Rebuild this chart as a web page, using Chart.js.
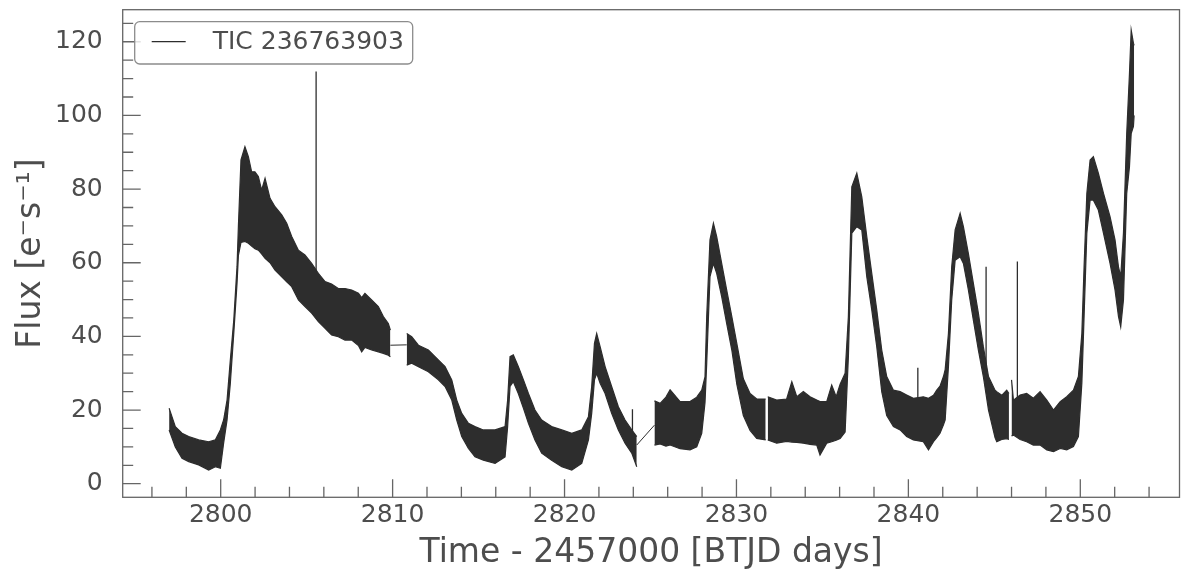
<!DOCTYPE html>
<html>
<head>
<meta charset="utf-8">
<script src="https://cdn.jsdelivr.net/npm/chart.js@4.4.1/dist/chart.umd.min.js"></script>
<style>
html,body{margin:0;padding:0;background:#ffffff;}
#contenedor{width:1181px;height:574px;}
</style>
</head>
<body>
<div id="contenedor"><canvas id="curvaLuz" width="1181" height="574"></canvas></div>
<script>

// Curva de luz (envolvente superior / inferior)

const nombreObjeto = "TIC 236763903";

// Segmento 1

const tiempo1 = [2797.00, 2797.36, 2797.75, 2798.14, 2798.72, 2799.30, 2799.69, 2799.98, 2800.17, 2800.37, 2800.56, 2800.76, 2800.95, 2801.03, 2801.18, 2801.41, 2801.61, 2801.80, 2801.99, 2802.19, 2802.38, 2802.58, 2802.87, 2803.16, 2803.55, 2803.84, 2804.13, 2804.52, 2804.90, 2805.29, 2805.68, 2806.07, 2806.45, 2806.84, 2807.23, 2807.62, 2808.01, 2808.20, 2808.39, 2808.78, 2809.17, 2809.46, 2809.75, 2809.87];
const fluxAlto1 = [20.5, 15.5, 13.7, 12.8, 11.9, 11.4, 11.9, 14.6, 17.3, 22.7, 33.6, 44.4, 59.0, 70.0, 87.9, 91.5, 88.8, 84.7, 84.7, 83.4, 79.7, 82.9, 77.5, 75.2, 73.0, 70.7, 67.1, 63.4, 62.1, 59.8, 57.1, 54.9, 54.2, 53.0, 53.0, 52.6, 51.7, 50.5, 51.7, 49.9, 48.1, 45.4, 43.5, 41.7];
const fluxBajo1 = [14.6, 10.0, 6.9, 6.0, 5.1, 3.7, 4.6, 4.2, 11.0, 17.3, 27.2, 40.8, 54.4, 62.0, 65.5, 65.8, 65.3, 64.5, 63.8, 63.4, 62.4, 61.2, 60.0, 58.0, 56.2, 54.8, 53.5, 49.9, 48.1, 46.3, 44.0, 42.2, 40.4, 39.9, 39.0, 39.0, 37.5, 35.8, 37.0, 36.3, 35.8, 35.4, 34.9, 34.5];

// Segmento 2

const tiempo2 = [2810.82, 2811.11, 2811.50, 2812.08, 2812.66, 2813.05, 2813.44, 2813.73, 2814.02, 2814.41, 2814.79, 2815.28, 2815.96, 2816.54, 2816.69, 2816.83, 2817.02, 2817.31, 2817.61, 2817.90, 2818.28, 2818.67, 2819.25, 2819.84, 2820.42, 2821.00, 2821.39, 2821.58, 2821.74, 2821.87, 2822.07, 2822.36, 2822.74, 2823.13, 2823.52, 2823.91, 2824.20];
const fluxAlto2 = [40.8, 39.9, 37.6, 36.3, 33.6, 31.8, 28.2, 22.7, 19.1, 16.4, 15.5, 14.6, 14.6, 15.5, 22.7, 34.5, 35.0, 31.8, 28.2, 24.5, 20.0, 17.3, 15.5, 14.6, 13.7, 14.6, 18.2, 26.4, 38.1, 40.8, 37.2, 31.8, 26.4, 20.9, 17.3, 14.6, 12.8];
const fluxBajo2 = [32.2, 32.7, 31.8, 30.4, 28.2, 26.4, 22.7, 17.3, 12.8, 9.6, 7.3, 6.4, 5.5, 7.3, 15.5, 26.4, 27.7, 24.5, 20.5, 16.4, 11.9, 8.3, 6.4, 4.6, 3.7, 5.5, 11.9, 19.1, 28.2, 30.0, 27.3, 24.5, 19.1, 14.6, 11.0, 8.3, 4.6];

// Segmento 3

const tiempo3 = [2825.23, 2825.56, 2825.90, 2826.14, 2826.72, 2827.30, 2827.69, 2827.98, 2828.17, 2828.27, 2828.46, 2828.66, 2828.85, 2829.14, 2829.43, 2829.73, 2830.02, 2830.40, 2830.79, 2831.18, 2831.70];
const fluxAlto3 = [22.5, 21.8, 23.5, 25.5, 22.3, 22.3, 23.5, 25.4, 29.0, 45.4, 66.2, 70.7, 67.1, 59.8, 52.6, 45.4, 38.1, 28.5, 24.5, 23.0, 23.0];
const fluxBajo3 = [10.5, 10.8, 10.2, 10.5, 9.5, 9.2, 10.0, 13.7, 22.0, 32.7, 56.2, 59.8, 57.1, 50.8, 43.5, 36.3, 27.0, 18.5, 14.5, 12.3, 11.9];

// Segmento 4

const tiempo4 = [2831.82, 2832.34, 2832.92, 2833.22, 2833.51, 2833.89, 2834.28, 2834.67, 2834.86, 2835.25, 2835.54, 2835.80, 2836.03, 2836.32, 2836.51, 2836.71, 2837.00, 2837.29, 2837.58, 2837.87, 2838.16, 2838.45, 2838.74, 2839.13, 2839.52, 2839.90, 2840.29, 2840.87, 2841.17, 2841.46, 2841.65, 2841.84, 2842.04, 2842.14, 2842.33, 2842.52, 2842.72, 2843.01, 2843.20, 2843.49, 2843.78, 2844.07, 2844.36, 2844.66, 2845.04, 2845.14, 2845.43, 2845.72, 2845.85];
const fluxAlto4 = [23.6, 22.7, 23.0, 27.7, 23.6, 25.0, 23.6, 22.7, 22.3, 22.3, 26.8, 23.6, 27.0, 30.0, 45.4, 80.6, 84.3, 77.9, 67.1, 57.1, 47.2, 36.3, 29.1, 25.4, 25.0, 24.1, 23.2, 23.6, 23.2, 24.0, 25.4, 26.5, 29.1, 31.0, 40.8, 58.9, 68.9, 73.4, 69.8, 62.5, 54.4, 46.3, 37.2, 29.1, 25.4, 25.0, 24.0, 25.4, 24.5];
const fluxBajo4 = [11.9, 11.0, 11.5, 11.3, 11.2, 11.0, 10.7, 10.5, 7.8, 11.0, 11.4, 11.8, 12.3, 14.0, 34.5, 68.0, 69.8, 68.9, 56.2, 47.2, 37.2, 25.0, 18.5, 15.5, 14.6, 12.8, 11.9, 11.4, 9.2, 11.4, 12.5, 13.7, 16.0, 17.3, 31.8, 49.9, 60.7, 61.6, 59.8, 52.6, 44.4, 36.3, 29.1, 20.0, 12.5, 11.4, 12.0, 12.2, 12.0];

// Segmento 5

const tiempo5 = [2846.00, 2846.11, 2846.50, 2846.88, 2847.27, 2847.66, 2848.05, 2848.44, 2848.83, 2849.21, 2849.60, 2849.89, 2850.09, 2850.22, 2850.38, 2850.57, 2850.76, 2851.05, 2851.35, 2851.73, 2852.02, 2852.22, 2852.35, 2852.51, 2852.70, 2852.86, 2852.96, 2853.09, 2853.13];
const fluxAlto5 = [28.2, 22.7, 24.1, 24.5, 23.2, 25.0, 22.7, 20.0, 22.3, 23.6, 25.4, 29.1, 40.8, 58.9, 78.8, 87.9, 88.8, 84.3, 78.8, 72.5, 66.2, 58.9, 56.2, 68.0, 95.1, 111.4, 123.2, 119.6, 119.0];
const fluxBajo5 = [13.0, 13.2, 12.0, 11.4, 10.5, 10.5, 9.2, 8.7, 9.6, 9.2, 10.1, 12.8, 27.3, 45.4, 68.0, 77.0, 77.0, 74.3, 68.0, 59.8, 52.6, 45.4, 42.6, 49.9, 78.8, 86.1, 95.1, 97.0, 100.0];

// Picos aislados (tiempo, base, tope)

const picosTiempo = [2805.55, 2823.95, 2840.55, 2844.52, 2846.34];
const picosBase = [55.0, 12.0, 20.0, 27.0, 20.0];
const picosTope = [111.9, 20.2, 31.5, 58.9, 60.3];

// Uniones entre segmentos (líneas finas en los huecos)

const unionTiempoInicio = [2809.87, 2824.20];
const unionFluxInicio = [37.6, 10.5];
const unionTiempoFin = [2810.82, 2825.23];
const unionFluxFin = [37.7, 15.9];

// Ejes

const rangoX = [2794.30, 2855.77];
const rangoY = [-3.69, 128.7];

const ticksX = [2800, 2810, 2820, 2830, 2840, 2850];
const ticksXMenores = [2796, 2798, 2802, 2804, 2806, 2808, 2812, 2814, 2816, 2818, 2822, 2824, 2826, 2828, 2832, 2834, 2836, 2838, 2842, 2844, 2846, 2848, 2852, 2854];

const ticksY = [0, 20, 40, 60, 80, 100, 120];
const ticksYMenores = [5, 10, 15, 25, 30, 35, 45, 50, 55, 65, 70, 75, 85, 90, 95, 105, 110, 115, 125];

const tituloX = "Time - 2457000 [BTJD days]";
const tituloY = "Flux [e\u207Bs\u207B\u00B9]";

// Colores

const colorCurva = "#2d2d2d";
const colorEje = "#666666";
const colorTexto = "#4d4d4d";

Chart.defaults.font.family = "'DejaVu Sans', sans-serif";

// Construir datasets

const segmentos = [
    {t: tiempo1, alto: fluxAlto1, bajo: fluxBajo1},
    {t: tiempo2, alto: fluxAlto2, bajo: fluxBajo2},
    {t: tiempo3, alto: fluxAlto3, bajo: fluxBajo3},
    {t: tiempo4, alto: fluxAlto4, bajo: fluxBajo4},
    {t: tiempo5, alto: fluxAlto5, bajo: fluxBajo5}
];

const conjuntos = [];

segmentos.forEach(function(s){

    conjuntos.push({
        label: nombreObjeto,
        data: s.t.map(function(t, i){ return {x: t, y: s.alto[i]}; }),
        borderColor: colorCurva,
        backgroundColor: colorCurva,
        borderWidth: 1.2,
        pointRadius: 0,
        tension: 0,
        fill: "+1"
    });

    conjuntos.push({
        label: nombreObjeto,
        data: s.t.map(function(t, i){ return {x: t, y: s.bajo[i]}; }),
        borderColor: colorCurva,
        borderWidth: 1.2,
        pointRadius: 0,
        tension: 0,
        fill: false
    });

});

const datosPicos = [];

picosTiempo.forEach(function(t, i){
    datosPicos.push({x: t, y: picosBase[i]});
    datosPicos.push({x: t, y: picosTope[i]});
    datosPicos.push({x: t, y: null});
});

conjuntos.push({
    label: nombreObjeto,
    data: datosPicos,
    borderColor: colorCurva,
    borderWidth: 1.3,
    pointRadius: 0,
    spanGaps: false,
    fill: false
});

const datosUniones = [];

unionTiempoInicio.forEach(function(t, i){
    datosUniones.push({x: t, y: unionFluxInicio[i]});
    datosUniones.push({x: unionTiempoFin[i], y: unionFluxFin[i]});
    datosUniones.push({x: unionTiempoFin[i], y: null});
});

conjuntos.push({
    label: nombreObjeto,
    data: datosUniones,
    borderColor: colorCurva,
    borderWidth: 1,
    pointRadius: 0,
    spanGaps: false,
    fill: false
});

// Marco, ticks interiores y leyenda

const marcoEjes = {

    id: "marcoEjes",

    afterDraw: function(chart){

        const ctx = chart.ctx;
        const a = chart.chartArea;
        const ex = chart.scales.x;
        const ey = chart.scales.y;

        ctx.save();

        ctx.strokeStyle = colorEje;
        ctx.lineWidth = 1.3;
        ctx.strokeRect(a.left, a.top, a.right - a.left, a.bottom - a.top);

        ctx.beginPath();

        ticksX.forEach(function(v){
            const px = ex.getPixelForValue(v);
            ctx.moveTo(px, a.bottom);
            ctx.lineTo(px, a.bottom - 18);
        });

        ticksXMenores.forEach(function(v){
            const px = ex.getPixelForValue(v);
            ctx.moveTo(px, a.bottom);
            ctx.lineTo(px, a.bottom - 10.5);
        });

        ticksY.forEach(function(v){
            const py = ey.getPixelForValue(v);
            ctx.moveTo(a.left, py);
            ctx.lineTo(a.left + 18, py);
        });

        ticksYMenores.forEach(function(v){
            const py = ey.getPixelForValue(v);
            ctx.moveTo(a.left, py);
            ctx.lineTo(a.left + 10.5, py);
        });

        ctx.stroke();

        // Leyenda

        const lx = a.left + 12;
        const ly = a.top + 12;

        ctx.beginPath();
        ctx.roundRect(lx, ly, 278, 42.3, 5);
        ctx.fillStyle = "rgba(255,255,255,0.8)";
        ctx.fill();
        ctx.strokeStyle = "#8c8c8c";
        ctx.lineWidth = 1.3;
        ctx.stroke();

        ctx.beginPath();
        ctx.moveTo(lx + 17, ly + 20);
        ctx.lineTo(lx + 51, ly + 20);
        ctx.strokeStyle = colorCurva;
        ctx.lineWidth = 1.3;
        ctx.stroke();

        ctx.fillStyle = colorTexto;
        ctx.font = "25px 'DejaVu Sans'";
        ctx.textBaseline = "middle";
        ctx.textAlign = "left";
        ctx.fillText(chart.data.datasets[0].label, lx + 78, ly + 21);

        ctx.restore();

    }

};

// Crear gráfico

const ctx = document.getElementById("curvaLuz");

new Chart(ctx, {

    type: "line",

    data: {
        datasets: conjuntos
    },

    options: {

        responsive: false,

        devicePixelRatio: 1,

        animation: false,

        layout: {
            padding: {
                top: 9.7,
                right: 1.5,
                left: 0,
                bottom: 0
            }
        },

        plugins: {

            legend: {
                display: false
            },

            tooltip: {
                enabled: false
            }

        },

        scales: {

            x: {

                type: "linear",

                min: rangoX[0],

                max: rangoX[1],

                afterBuildTicks: function(scale){
                    scale.ticks = ticksX.map(function(v){ return {value: v}; });
                },

                afterFit: function(scale){
                    scale.height = 76.7;
                    scale.paddingLeft = 0;
                    scale.paddingRight = 0;
                },

                ticks: {
                    color: colorTexto,
                    font: {size: 25},
                    padding: -5,
                    maxRotation: 0,
                    callback: function(v){ return String(v); }
                },

                grid: {
                    display: false
                },

                border: {
                    display: false
                },

                title: {
                    display: true,
                    text: tituloX,
                    color: colorTexto,
                    font: {size: 33, lineHeight: 1.2},
                    padding: {top: 0, bottom: 0.5}
                }

            },

            y: {

                min: rangoY[0],

                max: rangoY[1],

                afterBuildTicks: function(scale){
                    scale.ticks = ticksY.map(function(v){ return {value: v}; });
                },

                afterFit: function(scale){
                    scale.width = 122.7;
                    scale.paddingTop = 0;
                    scale.paddingBottom = 0;
                },

                ticks: {
                    color: colorTexto,
                    font: {size: 25},
                    padding: 12,
                    callback: function(v){ return String(v); }
                },

                grid: {
                    display: false
                },

                border: {
                    display: false
                },

                title: {
                    display: true,
                    text: tituloY,
                    color: colorTexto,
                    font: {size: 33, lineHeight: 1.2},
                    padding: {top: 12, bottom: 0}
                }

            }

        }

    },

    plugins: [marcoEjes]

});

</script>
</body>
</html>
